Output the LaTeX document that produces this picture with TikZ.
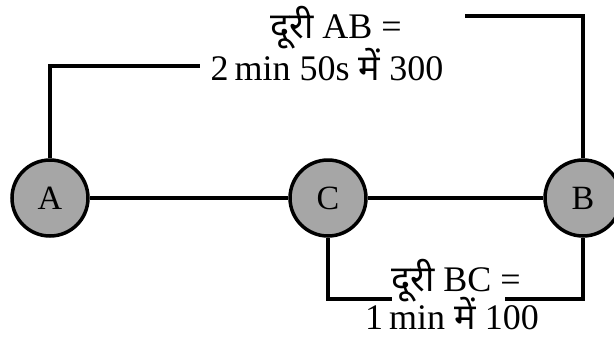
\documentclass[tikz,border=0pt]{standalone}
\usepackage{fontspec}
\setmainfont{Liberation Serif}
\newfontfamily\deva[Script=Devanagari]{Noto Sans}
\definecolor{stationfill}{RGB}{166,166,166}
\tikzset{
  station/.style={circle, draw=black, line width=3.5pt, fill=stationfill, minimum size=76pt, inner sep=0pt, font=\fontsize{34}{38}\selectfont},
  conn/.style={line width=3.2pt, draw=black},
  lbl/.style={anchor=base, inner sep=0pt, font=\fontsize{36}{40}\selectfont}
}
\begin{document}
\begin{tikzpicture}[x=1pt,y=-1pt]
\useasboundingbox (0,0) rectangle (614,341);
\node[station] (A) at (50,198) {A};
\node[station] (C) at (328,198) {C};
\node[station] (B) at (583,198) {B};
\draw[conn] (A) -- (C);
\draw[conn] (C) -- (B);
\node[lbl] (ab1) at (336,38) {{\deva दूरी} AB =};
\node[lbl] (ab2) at (327,80) {2\,min 50s {\deva में} 300};
\node[lbl] (bc1) at (456,291) {{\deva दूरी} BC =};
\node[lbl] (bc2) at (452,329) {1\,min {\deva में} 100};
\coordinate (tl) at (200,66);
\coordinate (tr) at (465,16);
\coordinate (bl) at (392,299);
\coordinate (br) at (505,299);
\draw[conn] (A.north) |- (tl);
\draw[conn] (tr) -| (B.north);
\draw[conn] (C.south) |- (bl);
\draw[conn] (br) -| (B.south);
\end{tikzpicture}
\end{document}
